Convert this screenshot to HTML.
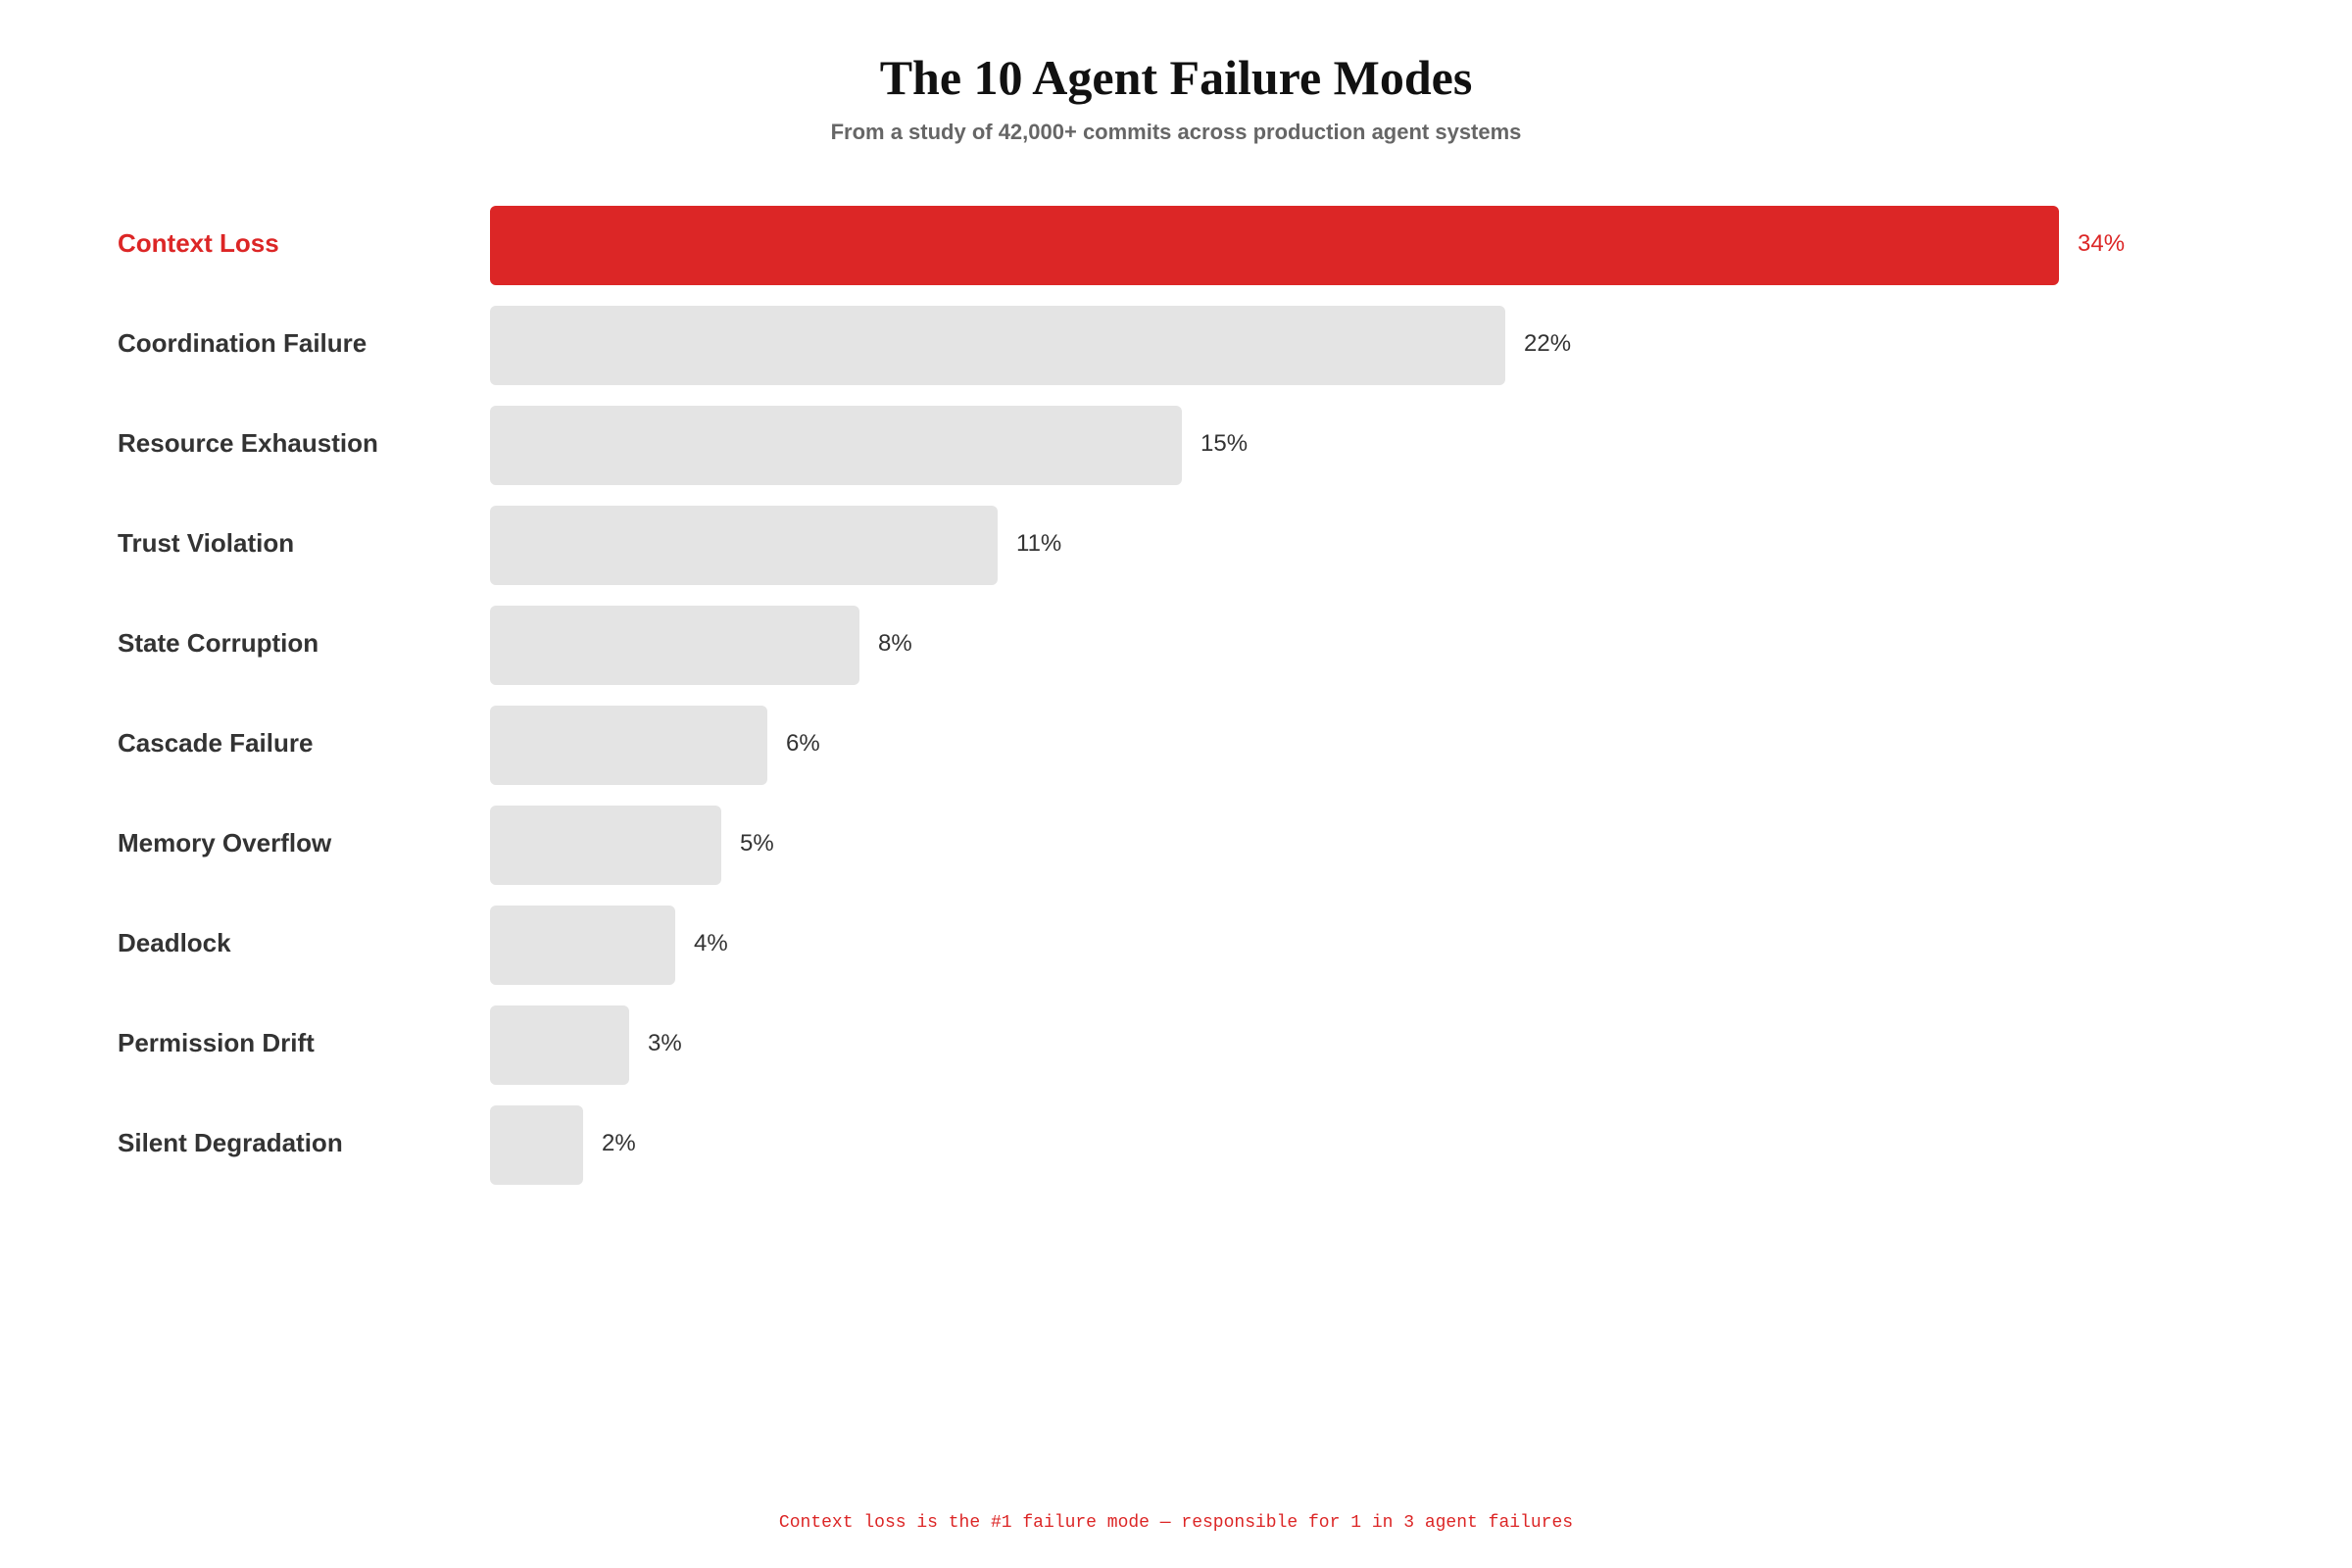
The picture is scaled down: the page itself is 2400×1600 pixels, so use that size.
<!DOCTYPE html>
<html><head><meta charset="utf-8"><style>
body{margin:0;width:2400px;height:1600px;background:#fff;position:relative;overflow:hidden;font-family:"Liberation Sans",sans-serif}
.t{position:absolute;left:0;width:2400px;text-align:center}
h1{font-family:"Liberation Serif",serif;font-weight:bold;font-size:50px;margin:0;top:50px;color:#111}
.sub{top:122px;font-size:22px;font-weight:bold;color:#666}
.lab{position:absolute;left:120px;font-size:26px;font-weight:bold;color:#333;line-height:81px;margin-top:-2px}
.bar{position:absolute;left:500px;height:81px;background:#e4e4e4;border-radius:6px}
.val{position:absolute;font-size:24px;color:#333;line-height:81px;margin-top:-2px}
.red{color:#dc2626}
.foot{top:1544px;font-family:"Liberation Mono",monospace;font-size:18px;color:#dc2626}
</style></head><body>
<h1 class="t">The 10 Agent Failure Modes</h1>
<div class="t sub">From a study of 42,000+ commits across production agent systems</div>
<div class="lab red" style="top:210px">Context Loss</div><div class="bar" style="top:210px;width:1601px;background:#dc2626"></div><div class="val red" style="top:210px;left:2120px">34%</div>
<div class="lab" style="top:312px">Coordination Failure</div><div class="bar" style="top:312px;width:1036px"></div><div class="val" style="top:312px;left:1555px">22%</div>
<div class="lab" style="top:414px">Resource Exhaustion</div><div class="bar" style="top:414px;width:706px"></div><div class="val" style="top:414px;left:1225px">15%</div>
<div class="lab" style="top:516px">Trust Violation</div><div class="bar" style="top:516px;width:518px"></div><div class="val" style="top:516px;left:1037px">11%</div>
<div class="lab" style="top:618px">State Corruption</div><div class="bar" style="top:618px;width:377px"></div><div class="val" style="top:618px;left:896px">8%</div>
<div class="lab" style="top:720px">Cascade Failure</div><div class="bar" style="top:720px;width:283px"></div><div class="val" style="top:720px;left:802px">6%</div>
<div class="lab" style="top:822px">Memory Overflow</div><div class="bar" style="top:822px;width:236px"></div><div class="val" style="top:822px;left:755px">5%</div>
<div class="lab" style="top:924px">Deadlock</div><div class="bar" style="top:924px;width:189px"></div><div class="val" style="top:924px;left:708px">4%</div>
<div class="lab" style="top:1026px">Permission Drift</div><div class="bar" style="top:1026px;width:142px"></div><div class="val" style="top:1026px;left:661px">3%</div>
<div class="lab" style="top:1128px">Silent Degradation</div><div class="bar" style="top:1128px;width:95px"></div><div class="val" style="top:1128px;left:614px">2%</div>
<div class="t foot">Context loss is the #1 failure mode — responsible for 1 in 3 agent failures</div>
</body></html>
